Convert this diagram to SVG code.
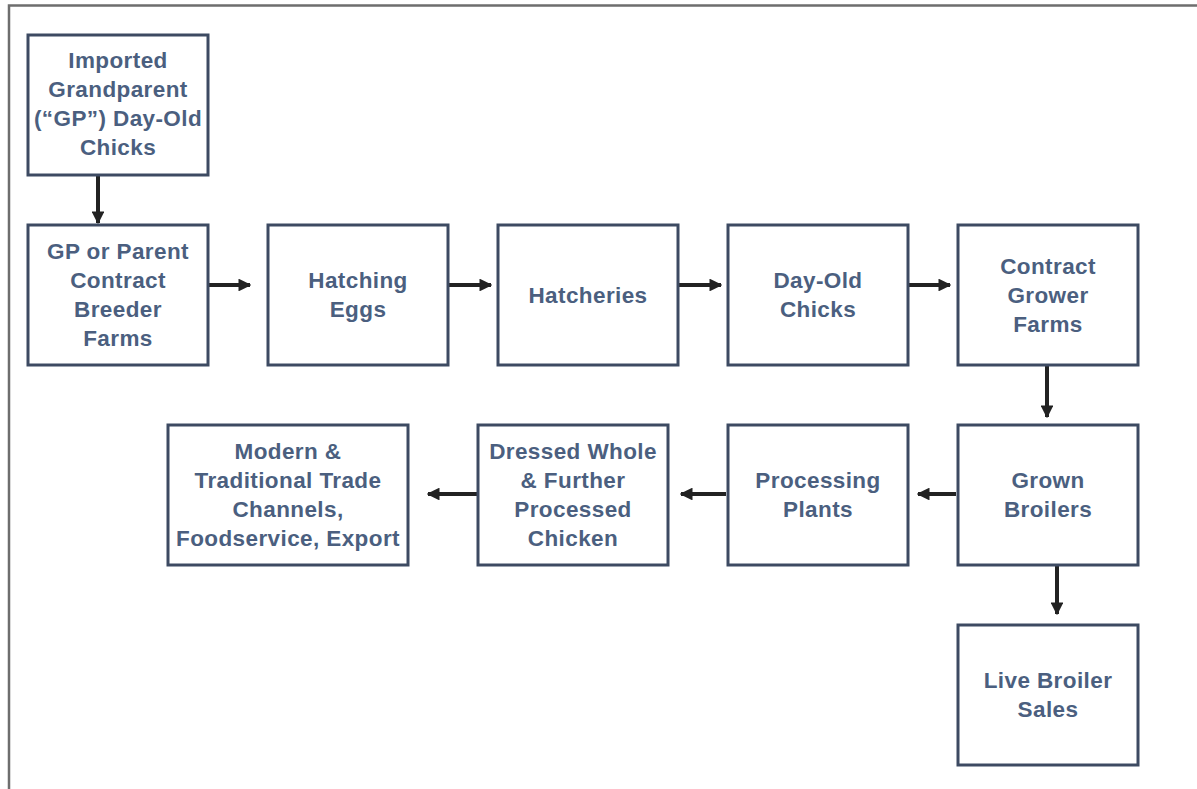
<svg xmlns="http://www.w3.org/2000/svg" width="1197" height="789" viewBox="0 0 1197 789">
<defs>
<style>
.box{fill:#ffffff;stroke:#3d4a62;stroke-width:3}
.lbl{font-family:"Liberation Sans",Arial,sans-serif;font-weight:bold;font-size:22.5px;letter-spacing:0.4px;fill:#4b5f7f;text-anchor:middle}
.con{stroke:#222222;stroke-width:4;fill:none;marker-end:url(#ah)}
</style>
<marker id="ah" viewBox="0 0 10 10" refX="9" refY="5" markerWidth="3.2" markerHeight="3.2" orient="auto" markerUnits="strokeWidth">
<path d="M0,0 L10,5 L0,10 z" fill="#222222"/>
</marker>
</defs>
<rect x="0" y="0" width="1197" height="789" fill="#ffffff"/>
<path d="M9,789 V5.5 H1197" fill="none" stroke="#6e6e6e" stroke-width="2.5"/>
<g id="connectors">
<line class="con" x1="98" y1="176" x2="98" y2="223"/>
<line class="con" x1="209" y1="285" x2="250" y2="285"/>
<line class="con" x1="449" y1="285" x2="491" y2="285"/>
<line class="con" x1="679" y1="285" x2="721" y2="285"/>
<line class="con" x1="909" y1="285" x2="950" y2="285"/>
<line class="con" x1="1047" y1="366" x2="1047" y2="417"/>
<line class="con" x1="956" y1="494" x2="918" y2="494"/>
<line class="con" x1="726" y1="494" x2="681" y2="494"/>
<line class="con" x1="477" y1="494" x2="428" y2="494"/>
<line class="con" x1="1057" y1="566" x2="1057" y2="614"/>
</g>
<g id="n1"><rect class="box" x="28" y="35" width="180" height="140"/>
<text class="lbl" x="118" y="68">Imported</text><text class="lbl" x="118" y="97">Grandparent</text><text class="lbl" x="118" y="126">(“GP”) Day-Old</text><text class="lbl" x="118" y="155">Chicks</text></g>
<g id="n2"><rect class="box" x="28" y="225" width="180" height="140"/>
<text class="lbl" x="118" y="259">GP or Parent</text><text class="lbl" x="118" y="288">Contract</text><text class="lbl" x="118" y="317">Breeder</text><text class="lbl" x="118" y="346">Farms</text></g>
<g id="n3"><rect class="box" x="268" y="225" width="180" height="140"/>
<text class="lbl" x="358" y="288">Hatching</text><text class="lbl" x="358" y="317">Eggs</text></g>
<g id="n4"><rect class="box" x="498" y="225" width="180" height="140"/>
<text class="lbl" x="588" y="303">Hatcheries</text></g>
<g id="n5"><rect class="box" x="728" y="225" width="180" height="140"/>
<text class="lbl" x="818" y="288">Day-Old</text><text class="lbl" x="818" y="317">Chicks</text></g>
<g id="n6"><rect class="box" x="958" y="225" width="180" height="140"/>
<text class="lbl" x="1048" y="274">Contract</text><text class="lbl" x="1048" y="303">Grower</text><text class="lbl" x="1048" y="332">Farms</text></g>
<g id="n7"><rect class="box" x="958" y="425" width="180" height="140"/>
<text class="lbl" x="1048" y="488">Grown</text><text class="lbl" x="1048" y="517">Broilers</text></g>
<g id="n8"><rect class="box" x="728" y="425" width="180" height="140"/>
<text class="lbl" x="818" y="488">Processing</text><text class="lbl" x="818" y="517">Plants</text></g>
<g id="n9"><rect class="box" x="478" y="425" width="190" height="140"/>
<text class="lbl" x="573" y="459">Dressed Whole</text><text class="lbl" x="573" y="488">&amp; Further</text><text class="lbl" x="573" y="517">Processed</text><text class="lbl" x="573" y="546">Chicken</text></g>
<g id="n10"><rect class="box" x="168" y="425" width="240" height="140"/>
<text class="lbl" x="288" y="459">Modern &amp;</text><text class="lbl" x="288" y="488">Traditional Trade</text><text class="lbl" x="288" y="517">Channels,</text><text class="lbl" x="288" y="546">Foodservice, Export</text></g>
<g id="n11"><rect class="box" x="958" y="625" width="180" height="140"/>
<text class="lbl" x="1048" y="688">Live Broiler</text><text class="lbl" x="1048" y="717">Sales</text></g>
</svg>
